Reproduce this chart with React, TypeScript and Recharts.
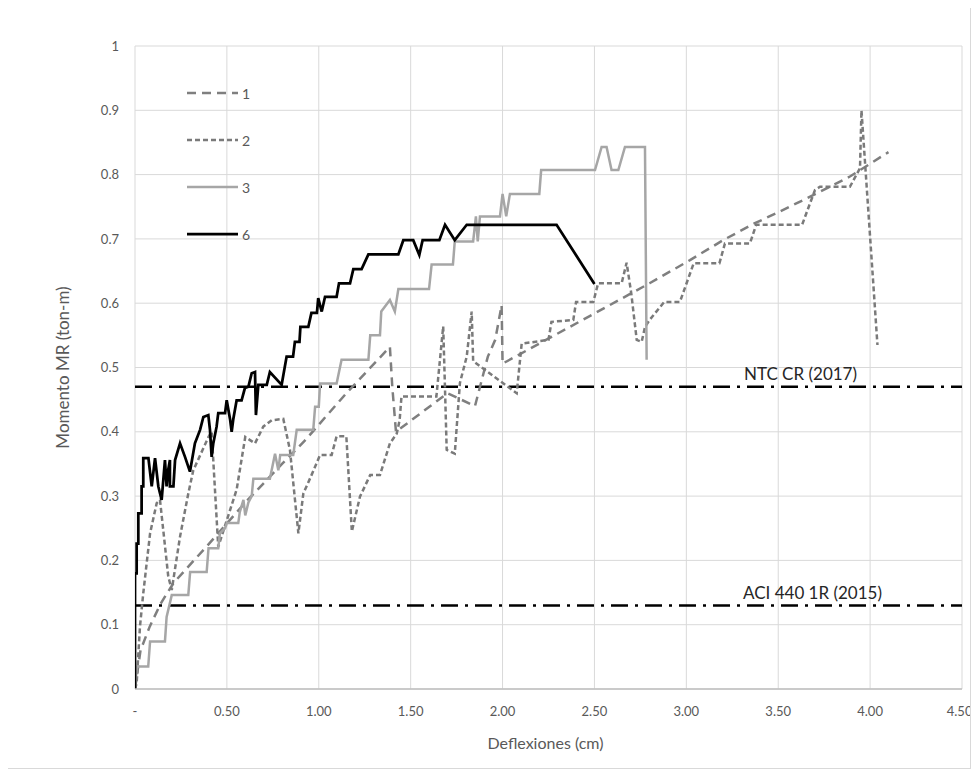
import React from 'react';
import { LineChart, Line, XAxis, YAxis, CartesianGrid, ReferenceLine, Legend } from 'recharts';

const xTicks = [0, 0.5, 1, 1.5, 2, 2.5, 3, 3.5, 4, 4.5];
const yTicks = [0, 0.1, 0.2, 0.3, 0.4, 0.5, 0.6, 0.7, 0.8, 0.9, 1];

const seriesNames = ['1', '2', '3', '6'];

const serie1: [number, number][] = [
  [0, 0], [0.03, 0.06], [0.08, 0.097], [0.14, 0.133], [0.21, 0.165], [0.4, 0.225], [0.6, 0.29],
  [0.8, 0.35], [0.92, 0.385], [1.15, 0.46], [1.387, 0.532], [1.4, 0.47], [1.42, 0.4], [1.7, 0.46],
  [1.85, 0.44], [1.92, 0.517], [1.96, 0.543], [1.995, 0.597], [2.0, 0.506], [2.5, 0.584],
  [2.8, 0.631], [3.02, 0.667], [3.2, 0.698], [3.37, 0.724], [3.49, 0.74], [3.69, 0.768],
  [3.89, 0.797], [4.1, 0.835],
];

const serie2: [number, number][] = [
  [0, 0], [0.009, 0.009], [0.027, 0.097], [0.045, 0.149], [0.082, 0.242], [0.118, 0.289],
  [0.136, 0.294], [0.181, 0.175], [0.2, 0.154], [0.245, 0.237], [0.29, 0.304], [0.317, 0.34],
  [0.4, 0.392], [0.417, 0.4], [0.453, 0.221], [0.517, 0.278], [0.553, 0.31], [0.6, 0.392],
  [0.653, 0.382], [0.698, 0.408], [0.744, 0.418], [0.807, 0.42], [0.843, 0.372], [0.889, 0.242],
  [0.916, 0.304], [0.961, 0.333], [1.007, 0.364], [1.07, 0.364], [1.097, 0.393], [1.15, 0.393],
  [1.18, 0.245], [1.224, 0.299], [1.28, 0.333], [1.333, 0.333], [1.387, 0.382], [1.424, 0.397],
  [1.44, 0.418], [1.45, 0.455], [1.64, 0.455], [1.677, 0.564], [1.687, 0.465], [1.696, 0.372],
  [1.74, 0.366], [1.768, 0.476], [1.805, 0.517], [1.832, 0.587], [1.84, 0.51], [2.077, 0.46],
  [2.104, 0.537], [2.25, 0.543], [2.266, 0.571], [2.385, 0.574], [2.4, 0.602], [2.494, 0.602],
  [2.52, 0.631], [2.648, 0.631], [2.675, 0.663], [2.7, 0.616], [2.73, 0.543], [2.757, 0.54],
  [2.775, 0.563], [2.8, 0.574], [2.88, 0.602], [2.965, 0.602], [3.04, 0.662], [3.18, 0.662],
  [3.21, 0.693], [3.346, 0.693], [3.38, 0.722], [3.63, 0.722], [3.7, 0.776], [3.727, 0.781],
  [3.89, 0.781], [3.945, 0.81], [3.953, 0.9], [4.04, 0.535],
];

const serie3: [number, number][] = [
  [0, 0], [0.01, 0.035], [0.072, 0.035], [0.082, 0.074], [0.163, 0.074], [0.172, 0.112],
  [0.2, 0.146], [0.29, 0.146], [0.3, 0.182], [0.39, 0.182], [0.4, 0.219], [0.453, 0.219],
  [0.462, 0.242], [0.49, 0.25], [0.5, 0.258], [0.562, 0.258], [0.57, 0.275], [0.59, 0.294],
  [0.6, 0.27], [0.617, 0.29], [0.635, 0.3], [0.644, 0.327], [0.734, 0.327], [0.762, 0.366],
  [0.78, 0.34], [0.79, 0.364], [0.861, 0.364], [0.88, 0.403], [0.97, 0.403], [0.98, 0.439],
  [1.0, 0.439], [1.007, 0.475], [1.097, 0.475], [1.124, 0.512], [1.27, 0.512], [1.28, 0.55],
  [1.333, 0.55], [1.34, 0.587], [1.387, 0.605], [1.414, 0.587], [1.433, 0.622], [1.6, 0.622],
  [1.614, 0.66], [1.73, 0.66], [1.74, 0.696], [1.84, 0.696], [1.855, 0.735], [1.865, 0.696],
  [1.877, 0.735], [1.986, 0.735], [2.0, 0.77], [2.02, 0.735], [2.04, 0.77], [2.2, 0.77],
  [2.21, 0.807], [2.503, 0.807], [2.539, 0.843], [2.566, 0.843], [2.593, 0.807], [2.63, 0.807],
  [2.666, 0.843], [2.775, 0.843], [2.784, 0.512],
];

const serie6: [number, number][] = [
  [0, 0], [0, 0.18], [0.009, 0.18], [0.009, 0.226], [0.018, 0.226], [0.018, 0.273],
  [0.036, 0.273], [0.036, 0.315], [0.045, 0.315], [0.045, 0.359], [0.073, 0.359], [0.091, 0.315],
  [0.109, 0.359], [0.127, 0.315], [0.145, 0.294], [0.163, 0.356], [0.172, 0.315], [0.181, 0.341],
  [0.19, 0.356], [0.19, 0.315], [0.209, 0.315], [0.218, 0.356], [0.245, 0.382], [0.272, 0.361],
  [0.299, 0.338], [0.326, 0.382], [0.354, 0.403], [0.372, 0.423], [0.399, 0.426], [0.408, 0.403],
  [0.417, 0.361], [0.426, 0.382], [0.444, 0.408], [0.453, 0.429], [0.49, 0.429], [0.499, 0.449],
  [0.517, 0.42], [0.526, 0.4], [0.535, 0.42], [0.553, 0.449], [0.58, 0.449], [0.598, 0.468],
  [0.617, 0.47], [0.635, 0.491], [0.653, 0.493], [0.658, 0.426], [0.671, 0.473], [0.717, 0.473],
  [0.734, 0.493], [0.798, 0.473], [0.825, 0.517], [0.86, 0.517], [0.87, 0.54], [0.895, 0.54],
  [0.9, 0.563], [0.943, 0.563], [0.96, 0.585], [0.99, 0.585], [0.997, 0.608], [1.016, 0.587],
  [1.034, 0.61], [1.097, 0.61], [1.11, 0.631], [1.17, 0.631], [1.188, 0.653], [1.233, 0.653],
  [1.27, 0.676], [1.433, 0.676], [1.46, 0.698], [1.514, 0.698], [1.547, 0.675], [1.565, 0.698],
  [1.656, 0.698], [1.687, 0.722], [1.74, 0.698], [1.805, 0.722], [2.294, 0.722], [2.5, 0.63],
];

const refValues = [0.47, 0.13];
const refLabels = ['NTC CR (2017)', 'ACI 440 1R (2015)'];

const FONT = 'Lato, "Open Sans", sans-serif';
const TICK_COLOR = '#595959';

const styles = [
  { color: '#7f7f7f', dash: '9 6', width: 2.5 },
  { color: '#7a7a7a', dash: '5 3', width: 2.5 },
  { color: '#a6a6a6', dash: undefined, width: 2.5 },
  { color: '#000000', dash: undefined, width: 2.75 },
];

const toData = (pts: [number, number][]) => pts.map(([x, y]) => ({ x, y }));
const allSeries = [serie1, serie2, serie3, serie6].map(toData);

const LegendContent = () => (
  <svg width={110} height={170} style={{ display: 'block', overflow: 'visible' }}>
    {seriesNames.map((n, i) => {
      const st = styles[i];
      const cy = 8 + i * 47;
      return (
        <g key={n}>
          <line x1={0} x2={51} y1={cy} y2={cy} stroke={st.color} strokeWidth={st.width} strokeDasharray={st.dash} />
          <text x={55} y={cy} dominantBaseline="central" fontSize={14} fill={TICK_COLOR} fontFamily={FONT}>{n}</text>
        </g>
      );
    })}
  </svg>
);

const RefLabel = (props: any) => {
  const { viewBox, text, right } = props;
  if (!viewBox) return null;
  return (
    <text x={viewBox.x + viewBox.width - right} y={viewBox.y - 13} textAnchor="end" dominantBaseline="central"
      fontSize={17} fill="#262626" fontFamily={FONT}>{text}</text>
  );
};

const YTitle = (props: any) => {
  const { viewBox } = props;
  const cx = 55;
  const cy = viewBox.y + viewBox.height / 2;
  return (
    <text x={cx} y={cy} transform={`rotate(-90 ${cx} ${cy})`} textAnchor="middle" dominantBaseline="central"
      fontSize={17} fill={TICK_COLOR} fontFamily={FONT}>Momento MR (ton-m)</text>
  );
};

const XTitle = (props: any) => {
  const { viewBox } = props;
  return (
    <text x={viewBox.x + viewBox.width / 2 - 3} y={737} textAnchor="middle" dominantBaseline="central"
      fontSize={16} fill={TICK_COLOR} fontFamily={FONT}>Deflexiones (cm)</text>
  );
};

export default function App() {
  return (
    <div style={{ position: 'relative', width: 964, height: 764, marginLeft: -1, marginTop: -3, background: '#fff' }}>
      <LineChart width={964} height={764} margin={{ top: 41, right: 9, left: 0, bottom: 50 }}>
        <CartesianGrid stroke="#d9d9d9" strokeWidth={1} vertical horizontal />
        <XAxis type="number" dataKey="x" domain={[0, 4.5]} ticks={xTicks} allowDataOverflow
          tickFormatter={(v: number) => (v === 0 ? '-' : v.toFixed(2))}
          tick={{ fill: TICK_COLOR, fontSize: 13, fontFamily: FONT }}
          tickLine={false} tickSize={0} tickMargin={18} height={30}
          axisLine={{ stroke: '#bfbfbf', strokeWidth: 1.5 }}
          label={{ content: XTitle }} />
        <YAxis type="number" domain={[0, 1]} ticks={yTicks} allowDataOverflow width={128}
          tickFormatter={(v: number) => String(Number(v.toFixed(1)))}
          tick={{ fill: TICK_COLOR, fontSize: 13, fontFamily: FONT }}
          tickLine={false} tickSize={0} tickMargin={16} axisLine={false}
          label={{ content: YTitle }} />
        {refValues.map((v, i) => (
          <ReferenceLine key={refLabels[i]} y={v} stroke="#000" strokeWidth={2.5} strokeDasharray="17 7 3 7"
            label={<RefLabel text={refLabels[i]} right={i === 0 ? 105 : 80} />} />
        ))}
        {allSeries.map((d, i) => (
          <Line key={seriesNames[i]} data={d} dataKey="y" name={seriesNames[i]} type="linear"
            stroke={styles[i].color} strokeWidth={styles[i].width} strokeDasharray={styles[i].dash}
            dot={false} activeDot={false} isAnimationActive={false} />
        ))}
        <Legend layout="vertical" align="center" verticalAlign="middle" content={<LegendContent />}
          wrapperStyle={{ position: 'absolute', left: 180, top: 80, width: 110, height: 170 }} />
      </LineChart>
      <div style={{ position: 'absolute', inset: 0, border: '1px solid #d9d9d9', pointerEvents: 'none' }} />
    </div>
  );
}
